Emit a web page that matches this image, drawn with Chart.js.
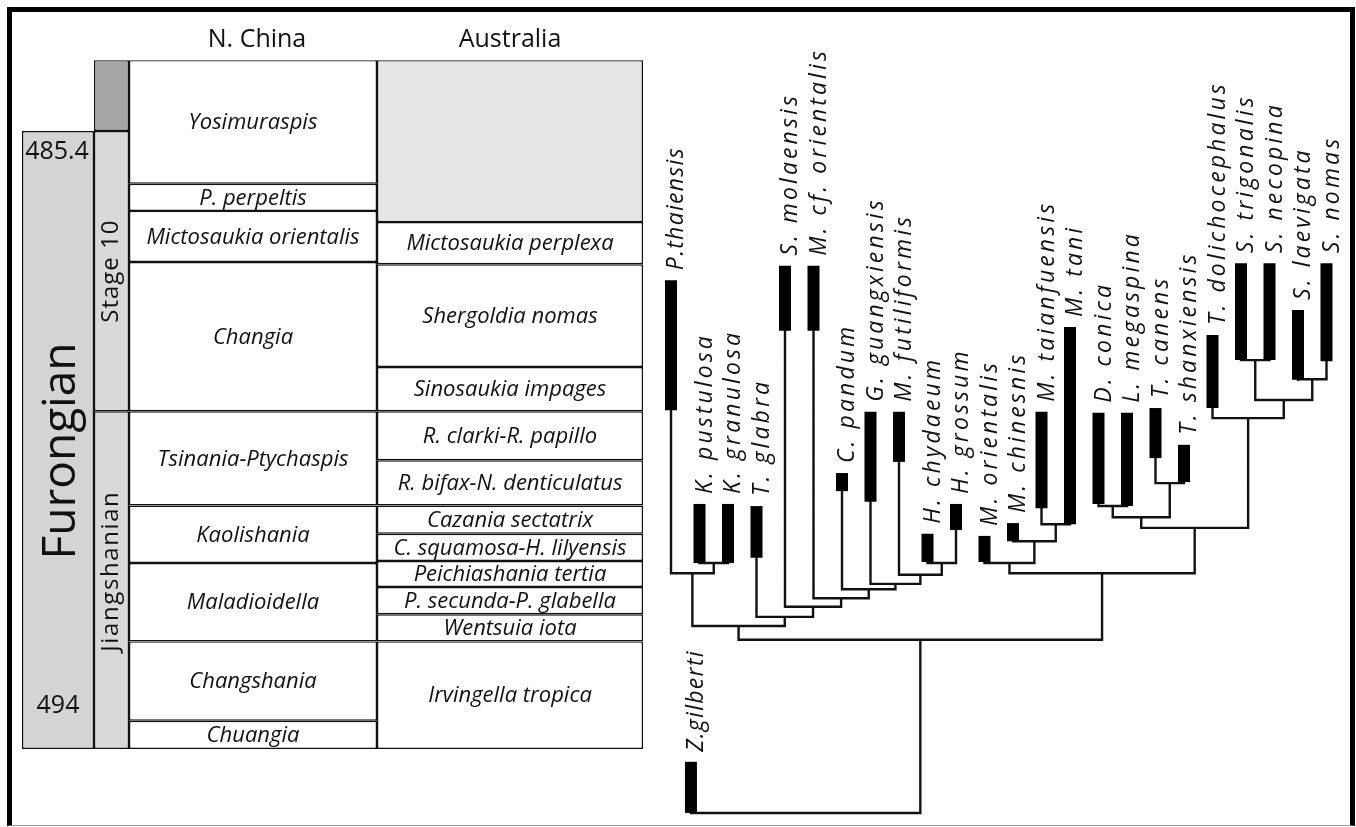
<!DOCTYPE html>
<html><head><meta charset="utf-8">
<script src="https://cdn.jsdelivr.net/npm/chart.js@4.4.1/dist/chart.umd.min.js"></script>
<style>
html,body{margin:0;padding:0;background:#fff;overflow:hidden}
#wrap{position:relative;width:1356px;height:827px}
#frame{position:absolute;left:7px;top:7px;width:1348px;height:819px;box-sizing:border-box;border:5px solid #000;border-bottom:1px solid #9a9a9a;pointer-events:none}
</style></head><body>
<div id="wrap"><canvas id="c"></canvas><div id="frame"></div></div>
<script>
// ---------- DATA (ages in Ma) ----------
const seriesNames = ['Furongian'];
const seriesBounds = [485.4, 497.0];
const stageNames = ['', 'Stage 10', 'Jiangshanian'];
const stageBounds = [484.07, 485.4, 490.66, 497.0];
const ageLabels = ['485.4', '494'];
const columnHeads = ['N. China', 'Australia'];
const chinaZones = ['Yosimuraspis', 'P. perpeltis', 'Mictosaukia orientalis', 'Changia',
  'Tsinania-Ptychaspis', 'Kaolishania', 'Maladioidella', 'Changshania', 'Chuangia'];
const chinaBounds = [484.07, 486.39, 486.90, 487.86, 490.66, 492.43, 493.51, 494.98, 496.47, 497.0];
const ausZones = ['', 'Mictosaukia perplexa', 'Shergoldia nomas', 'Sinosaukia impages',
  'R. clarki-R. papillo', 'R. bifax-N. denticulatus', 'Cazania sectatrix',
  'C. squamosa-H. lilyensis', 'Peichiashania tertia', 'P. secunda-P. glabella',
  'Wentsuia iota', 'Irvingella tropica'];
const ausBounds = [484.07, 487.11, 487.90, 489.83, 490.66, 491.58, 492.43, 492.96,
  493.47, 493.96, 494.47, 494.98, 497.0];

const taxa = ['P.thaiensis', 'K. pustulosa', 'K. granulosa', 'T. glabra', 'S. molaensis',
  'M. cf. orientalis', 'C. pandum', 'G. guangxiensis', 'M. futiliformis', 'H. chydaeum',
  'H. grossum', 'M. orientalis', 'M. chinesnis', 'M. taianfuensis', 'M. tani', 'D. conica',
  'L. megaspina', 'T. canens', 'T. shanxiensis', 'T. dolichocephalus', 'S. trigonalis',
  'S. necopina', 'S. laevigata', 'S. nomas', 'Z.gilberti'];
const taxonSlot = [0, 1, 2, 3, 4, 5, 6, 7, 8, 9, 10, 11, 12, 13, 14, 15, 16, 17, 18, 19, 20, 21, 22, 23, 0.7];
const rangeTop = [488.20, 492.40, 492.40, 492.44, 487.93, 487.93, 491.82, 490.67, 490.67, 492.96,
  492.40, 493.00, 492.76, 490.67, 489.08, 490.69, 490.69, 490.60, 491.29, 489.23,
  487.88, 487.88, 488.76, 487.88, 497.24];
const rangeBase = [490.64, 493.51, 493.51, 493.41, 489.15, 489.15, 492.16, 492.36, 491.61, 493.49,
  492.89, 493.49, 493.10, 492.48, 492.78, 492.40, 492.44, 491.54, 491.99, 490.60,
  489.70, 489.70, 490.07, 489.72, 498.20];
// clades: [id, node age, child A, child B]
const clades = [
  ['K', 493.51, 'K. pustulosa', 'K. granulosa'],
  ['PK', 493.70, 'P.thaiensis', 'K'],
  ['H', 493.51, 'H. chydaeum', 'H. grossum'],
  ['Mf', 493.73, 'M. futiliformis', 'H'],
  ['G', 493.90, 'G. guangxiensis', 'Mf'],
  ['C', 494.00, 'C. pandum', 'G'],
  ['Mcf', 494.17, 'M. cf. orientalis', 'C'],
  ['S', 494.33, 'S. molaensis', 'Mcf'],
  ['T', 494.52, 'T. glabra', 'S'],
  ['L', 494.69, 'PK', 'T'],
  ['Mt', 492.78, 'M. taianfuensis', 'M. tani'],
  ['Mc', 493.10, 'M. chinesnis', 'Mt'],
  ['Mo', 493.51, 'M. orientalis', 'Mc'],
  ['DL', 492.44, 'D. conica', 'L. megaspina'],
  ['TT', 492.01, 'T. canens', 'T. shanxiensis'],
  ['DT', 492.65, 'DL', 'TT'],
  ['ST', 489.70, 'S. trigonalis', 'S. necopina'],
  ['SL', 490.06, 'S. laevigata', 'S. nomas'],
  ['S4', 490.45, 'ST', 'SL'],
  ['Td', 490.79, 'T. dolichocephalus', 'S4'],
  ['R2', 492.85, 'DT', 'Td'],
  ['R', 493.70, 'Mo', 'R2'],
  ['I', 494.95, 'L', 'R'],
  ['root', 498.20, 'Z.gilberti', 'I']
];

// ---------- LAYOUT (table columns on the 'xt' axis) ----------
const layout = {
  series: {c: 58, w: 72}, stage: {c: 111.5, w: 35},
  china: {c: 253, w: 248}, aus: {c: 510, w: 266}
};
const INK = '#111111';

function cells(bounds, col) {
  const out = [];
  for (let i = 0; i < bounds.length - 1; i++) out.push({x: col.c, y: [bounds[i], bounds[i + 1]]});
  return out;
}
function tableSet(data, col, colors) {
  return {type: 'bar', xAxisID: 'xt', data, barThickness: col.w, grouped: false,
    backgroundColor: colors, borderColor: INK, borderWidth: 1.45, borderSkipped: false,
    inflateAmount: 0, order: 3};
}

// tree segments
const pos = {}, attach = {};
taxa.forEach((t, i) => { pos[t] = taxonSlot[i]; attach[t] = rangeBase[i]; });
const treePts = [];
function seg(a, b) { treePts.push(a, b, {x: null, y: null}); }
clades.forEach(([id, age, a, b]) => {
  pos[id] = (pos[a] + pos[b]) / 2;
  seg({x: pos[a], y: age}, {x: pos[b], y: age});
  seg({x: pos[a], y: attach[a]}, {x: pos[a], y: age});
  seg({x: pos[b], y: attach[b]}, {x: pos[b], y: age});
  attach[id] = age;
});

const datasets = [
  tableSet(cells(seriesBounds, layout.series), layout.series, ['#d4d4d4']),
  tableSet(cells(stageBounds, layout.stage), layout.stage, ['#a6a6a6', '#d9d9d9', '#d9d9d9']),
  tableSet(cells(chinaBounds, layout.china), layout.china, '#ffffff'),
  tableSet(cells(ausBounds, layout.aus), layout.aus, ausZones.map(z => z ? '#ffffff' : '#e5e5e5')),
  {type: 'line', xAxisID: 'x', data: treePts, borderColor: INK, borderWidth: 2.4,
    pointRadius: 0, spanGaps: false, borderCapStyle: 'square', order: 2, tension: 0},
  {type: 'bar', xAxisID: 'x', data: taxa.map((t, i) => ({x: taxonSlot[i], y: [rangeTop[i], rangeBase[i]]})),
    barThickness: 12, grouped: false, backgroundColor: '#000', borderWidth: 0, inflateAmount: 0, order: 1}
];

function vtext(ctx, s, px, py, align, spacing) {
  ctx.save();
  ctx.translate(px, py);
  ctx.rotate(-Math.PI / 2);
  ctx.textAlign = align;
  ctx.letterSpacing = (spacing || 0) + 'px';
  ctx.fillText(s, 0, 0);
  ctx.restore();
}

const textPlugin = {
  id: 'texts',
  afterDatasetsDraw(chart) {
    const {ctx, scales} = chart;
    const x = scales.x, y = scales.y, xt = scales.xt;
    ctx.save();
    ctx.fillStyle = '#111';
    // column headers
    ctx.font = '25px "Open Sans"';
    ctx.textAlign = 'center';
    ctx.textBaseline = 'alphabetic';
    const headY = y.getPixelForValue(chinaBounds[0]) - 13;
    ctx.fillText(columnHeads[0], xt.getPixelForValue(layout.china.c) + 4, headY);
    ctx.fillText(columnHeads[1], xt.getPixelForValue(layout.aus.c), headY);
    // zone names
    ctx.font = 'italic 22px "Open Sans"';
    ctx.textBaseline = 'middle';
    const zoneText = (names, bounds, col) => names.forEach((n, i) => {
      if (!n) return;
      const yc = (y.getPixelForValue(bounds[i]) + y.getPixelForValue(bounds[i + 1])) / 2 + 1;
      ctx.fillText(n, xt.getPixelForValue(col.c), yc);
    });
    zoneText(chinaZones, chinaBounds, layout.china);
    zoneText(ausZones, ausBounds, layout.aus);
    // ages
    ctx.font = '25px "Open Sans"';
    ctx.textBaseline = 'alphabetic';
    const sx = xt.getPixelForValue(layout.series.c);
    ctx.fillText(ageLabels[0], sx - 1, y.getPixelForValue(seriesBounds[0]) + 28);
    ctx.fillText(ageLabels[1], sx, y.getPixelForValue(seriesBounds[1]) - 36);
    // series & stage names (rotated)
    ctx.textBaseline = 'alphabetic';
    ctx.font = '46px "Open Sans"';
    const sMid = (y.getPixelForValue(seriesBounds[0]) + y.getPixelForValue(seriesBounds[1])) / 2 + 11;
    vtext(ctx, seriesNames[0], sx + 17, sMid, 'center', 0);
    ctx.font = '24px "Open Sans"';
    const stx = xt.getPixelForValue(layout.stage.c) + 6;
    const st1 = (y.getPixelForValue(stageBounds[1]) + y.getPixelForValue(stageBounds[2])) / 2;
    vtext(ctx, stageNames[1], stx, st1, 'center', 1);
    const st2 = (y.getPixelForValue(stageBounds[2]) + y.getPixelForValue(stageBounds[3])) / 2 - 9;
    vtext(ctx, stageNames[2], stx, st2, 'center', 1.6);
    // taxon labels
    ctx.font = 'italic 23px "Open Sans"';
    taxa.forEach((t, i) => {
      const px = x.getPixelForValue(taxonSlot[i]);
      const py = y.getPixelForValue(rangeTop[i]) - 10;
      const tight = t.indexOf('. ') < 0;
      vtext(ctx, t, px + 12, py, 'left', tight ? 1.3 : 3.1);
    });
    ctx.restore();
  }
};

new Chart(document.getElementById('c'), {
  type: 'bar',
  data: {datasets},
  options: {
    responsive: true, maintainAspectRatio: false, animation: false, devicePixelRatio: 1,
    layout: {padding: 0},
    plugins: {legend: {display: false}, tooltip: {enabled: false}, title: {display: false}},
    scales: {
      x: {type: 'linear', display: false, offset: false, grid: {offset: false}, min: -23.544, max: 24.035},
      xt: {type: 'linear', display: false, offset: false, grid: {offset: false}, min: 0, max: 1356},
      y: {type: 'linear', display: false, reverse: true, min: 482.941, max: 498.464}
    }
  },
  plugins: [textPlugin]
});
</script></body></html>
